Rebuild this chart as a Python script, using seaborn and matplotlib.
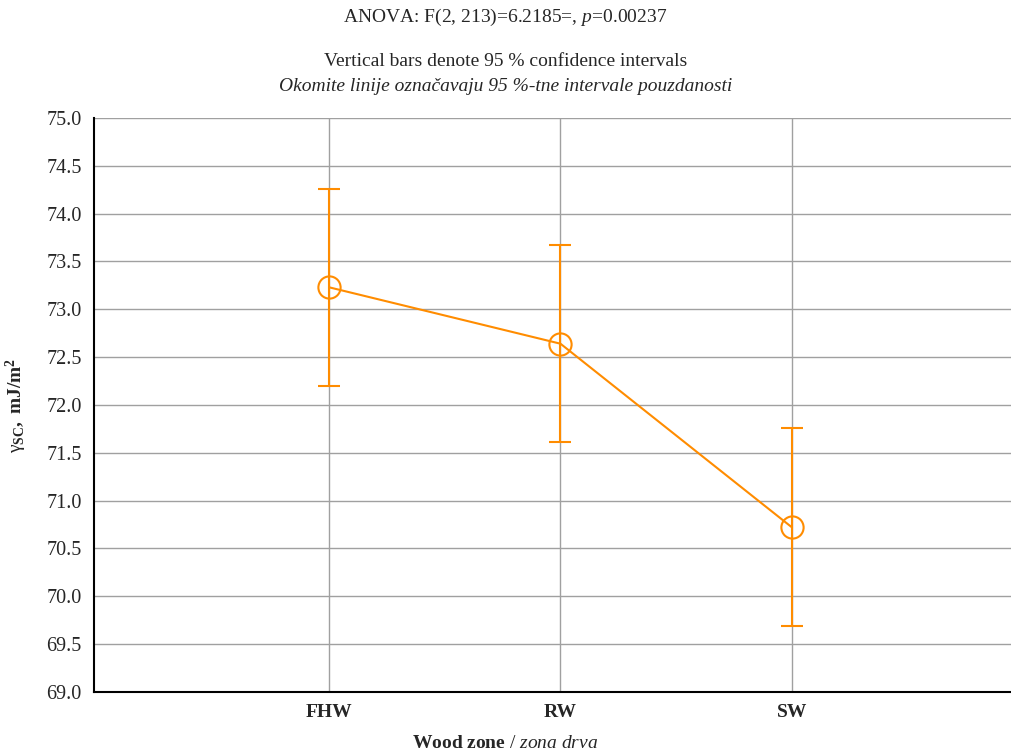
import matplotlib
matplotlib.use("Agg")
import matplotlib.pyplot as plt
import seaborn as sns
import pandas as pd

zones = ["FHW", "RW", "SW"]
means = [73.23, 72.64, 70.72]
ci_low = [72.20, 71.61, 69.69]
ci_high = [74.26, 73.67, 71.76]
yticks = [69.0, 69.5, 70.0, 70.5, 71.0, 71.5, 72.0, 72.5, 73.0, 73.5, 74.0, 74.5, 75.0]

sns.set_style("white")
plt.rcParams["font.family"] = ["Liberation Serif", "DejaVu Serif"]
plt.rcParams["mathtext.fontset"] = "custom"
plt.rcParams["mathtext.rm"] = "Liberation Serif"
plt.rcParams["mathtext.it"] = "Liberation Serif:italic"
plt.rcParams["mathtext.bf"] = "Liberation Serif:bold"

orange = "#FF8C00"
df = pd.DataFrame({"pos": range(len(zones)), "zone": zones, "mean": means})

fig = plt.figure(figsize=(10.11, 7.56), dpi=100)
ax = fig.add_axes([0.093, 0.0847, 0.907, 0.7593])

ax.errorbar(df["pos"], df["mean"],
            yerr=[[m - l for m, l in zip(means, ci_low)], [h - m for m, h in zip(means, ci_high)]],
            fmt="none", ecolor=orange, elinewidth=1.5, capsize=8, capthick=1.5, zorder=3)
sns.lineplot(data=df, x="pos", y="mean", ax=ax, color=orange, linewidth=1.5,
             marker="o", markersize=16, markerfacecolor="none", markeredgecolor=orange,
             markeredgewidth=1.5, zorder=4)

ax.set_xlim(-1.015, 2.946)
ax.set_ylim(69.0, 75.0)
ax.set_yticks(yticks)
ax.set_yticklabels([f"{v:.1f}" for v in yticks], fontsize=14.5)
ax.set_xticks(df["pos"])
ax.set_xticklabels(zones, fontsize=14, fontweight="bold")
ax.grid(True, color="#a0a0a0", linewidth=1.0)
ax.set_axisbelow(True)
for s in ["top", "right"]:
    ax.spines[s].set_visible(False)
for s in ["left", "bottom"]:
    ax.spines[s].set_color("black")
    ax.spines[s].set_linewidth(1.5)
ax.tick_params(axis="both", length=0, pad=9)

ax.set_xlabel("")
fig.text(0.5, 1 - 744 / 756, r"$\mathbf{Wood\ zone}$ / $\mathit{zona\ drva}$", ha="center", va="center", fontsize=14)
ax.set_ylabel(r"$\mathrm{\gamma}_{\mathbf{SC}}$$\mathbf{,\ mJ/m^2}$", fontsize=14, labelpad=12)

fig.text(0.5, 1 - 17 / 756, r"ANOVA: F(2, 213)=6.2185=, $\mathit{p}$=0.00237", ha="center", va="center", fontsize=14)
fig.text(0.5, 0.919, "Vertical bars denote 95 % confidence intervals", ha="center", va="center", fontsize=14)
fig.text(0.5, 0.885, "Okomite linije označavaju 95 %-tne intervale pouzdanosti", ha="center", va="center",
         fontsize=14, style="italic")

fig.savefig("out.png", dpi=100)
